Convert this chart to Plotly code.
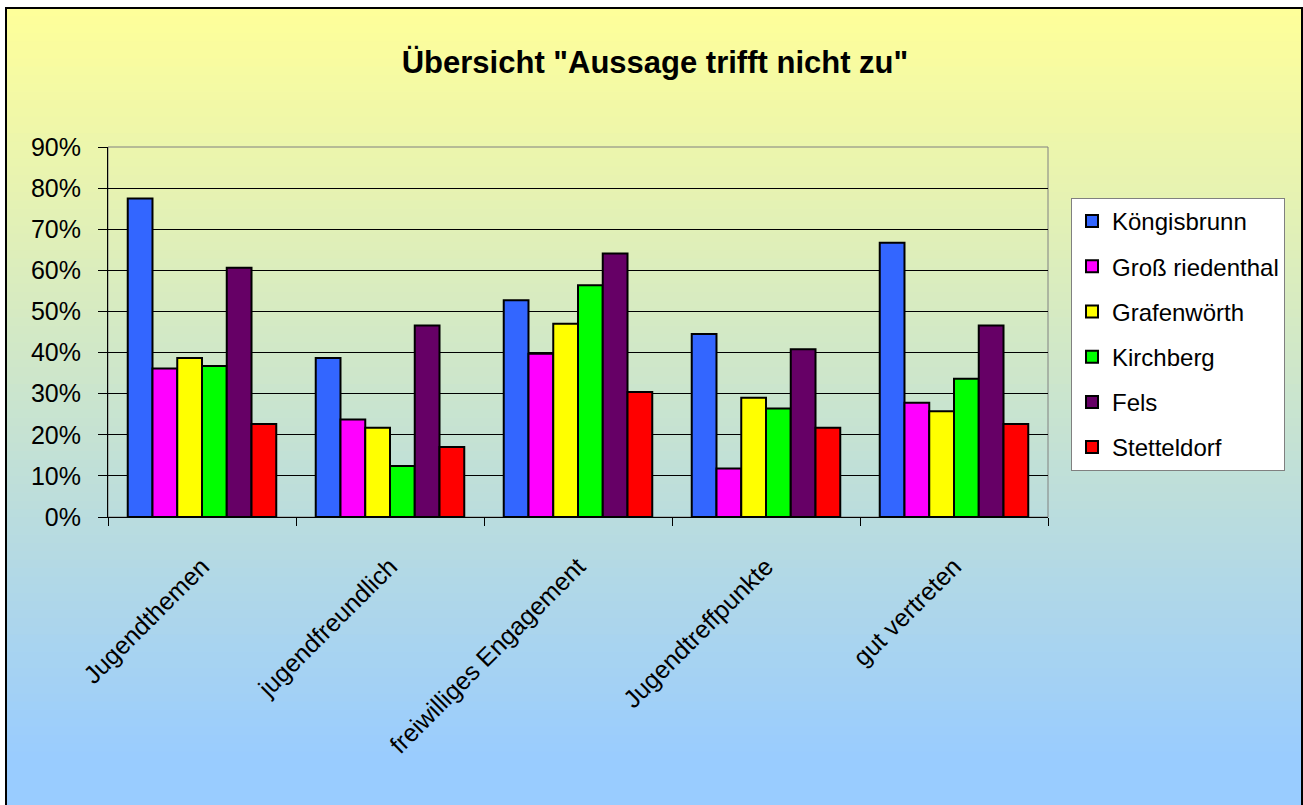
import plotly.graph_objects as go

categories = ["Jugendthemen", "jugendfreundlich", "freiwilliges Engagement", "Jugendtreffpunkte", "gut vertreten"]
series_names = ["Köngisbrunn", "Groß riedenthal", "Grafenwörth", "Kirchberg", "Fels", "Stetteldorf"]
koengisbrunn = [0.775, 0.387, 0.527, 0.445, 0.667]
grossriedenthal = [0.361, 0.237, 0.397, 0.118, 0.278]
grafenwoerth = [0.387, 0.217, 0.470, 0.290, 0.257]
kirchberg = [0.367, 0.124, 0.564, 0.264, 0.336]
fels = [0.606, 0.466, 0.641, 0.408, 0.466]
stetteldorf = [0.226, 0.170, 0.304, 0.217, 0.226]
y_ticks = [0, 0.1, 0.2, 0.3, 0.4, 0.5, 0.6, 0.7, 0.8, 0.9]
y_tick_labels = ["0%", "10%", "20%", "30%", "40%", "50%", "60%", "70%", "80%", "90%"]

series_values = [koengisbrunn, grossriedenthal, grafenwoerth, kirchberg, fels, stetteldorf]
colors = ["#3366FF", "#FF00FF", "#FFFF00", "#00FF00", "#660066", "#FF0000"]

W, H = 1303, 805
L, R, T, B = 108, 1048, 147, 517  # plot area in pixels
FONT = "Arial, 'Liberation Sans', sans-serif"

def px_x(x):
    return (x - L) / (R - L)

def px_y(y):
    return (B - y) / (B - T)

fig = go.Figure()
for i, (name, vals) in enumerate(zip(series_names, series_values)):
    fig.add_trace(go.Bar(
        x=categories, y=vals, name=name,
        marker=dict(color=colors[i], line=dict(color="black", width=2)),
        legendgroup=name,
    ))

shapes = []
# background gradient (yellow -> light blue)
top_c = (255, 255, 153)
bot_c = (153, 204, 255)
n = 90
y_start, y_end = 8, 760
for k in range(n):
    ya = y_start + (y_end - y_start) * k / n
    yb = y_start + (y_end - y_start) * (k + 1) / n + 1
    t = (k + 0.5) / n
    c = tuple(round(top_c[j] + (bot_c[j] - top_c[j]) * t) for j in range(3))
    shapes.append(dict(type="rect", xref="paper", yref="paper",
                       x0=px_x(6), x1=px_x(1310), y0=px_y(yb), y1=px_y(ya),
                       fillcolor="rgb(%d,%d,%d)" % c, line=dict(width=0), layer="below"))
shapes.append(dict(type="rect", xref="paper", yref="paper",
                   x0=px_x(6), x1=px_x(1310), y0=px_y(820), y1=px_y(y_end),
                   fillcolor="rgb(%d,%d,%d)" % bot_c, line=dict(width=0), layer="below"))
# outer chart border
shapes.append(dict(type="rect", xref="paper", yref="paper",
                   x0=px_x(6), x1=px_x(1302), y0=px_y(830), y1=px_y(8),
                   line=dict(color="black", width=2), fillcolor="rgba(0,0,0,0)", layer="above"))
# plot area border (gray)
shapes.append(dict(type="rect", xref="paper", yref="paper",
                   x0=0, x1=1, y0=0, y1=1,
                   line=dict(color="#808080", width=1), fillcolor="rgba(0,0,0,0)", layer="below"))

fig.update_layout(
    width=W, height=H,
    margin=dict(l=L, r=W - R, t=T, b=H - B, autoexpand=False),
    paper_bgcolor="white",
    plot_bgcolor="#C0C0C0",
    barmode="group",
    bargap=0.21,
    bargroupgap=0,
    font=dict(family=FONT, size=25, color="black"),
    title=dict(text="<b>Übersicht \"Aussage trifft nicht zu\"</b>",
               x=655 / W, xanchor="center", y=1 - 62 / H, yanchor="middle",
               font=dict(family=FONT, size=31, color="black")),
    showlegend=True,
    legend=dict(
        x=px_x(1071), y=px_y(198), xanchor="left", yanchor="top",
        bgcolor="white", bordercolor="#808080", borderwidth=1,
        font=dict(family=FONT, size=24, color="black"),
        tracegroupgap=11, traceorder="grouped", itemwidth=30,
    ),
    shapes=shapes,
)
fig.update_xaxes(
    showline=True, linecolor="black", linewidth=1,
    ticks="outside", tickson="boundaries", ticklen=8, tickcolor="black",
    tickangle=-45, showgrid=False, ticklabelstandoff=24,
    tickfont=dict(family=FONT, size=25, color="black"),
)
fig.update_yaxes(
    range=[0, 0.9], tickvals=y_ticks, ticktext=y_tick_labels,
    showline=True, linecolor="black", linewidth=1,
    ticks="outside", ticklen=9, tickcolor="black",
    showgrid=True, gridcolor="black", gridwidth=1,
    zeroline=False, ticklabelstandoff=12,
    tickfont=dict(family=FONT, size=25, color="black"),
)

fig.write_html("out.html", config={"displayModeBar": False},
               post_script="document.body.style.margin='0px';document.body.style.overflow='hidden';")
